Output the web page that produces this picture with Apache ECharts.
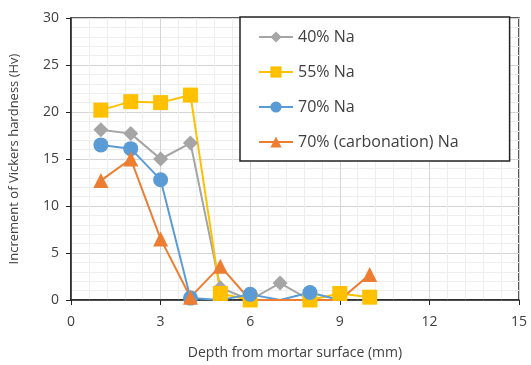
<!DOCTYPE html>
<html>
<head>
<meta charset="utf-8">
<script src="https://cdn.jsdelivr.net/npm/echarts@6/dist/echarts.min.js"></script>
<style>
  html, body { margin: 0; padding: 0; background: #fff; }
  #chart { width: 531px; height: 365px; }
</style>
</head>
<body>
<div id="chart"></div>
<script>
// depth (mm) and hardness increment (Hv)
var depth = [1, 2, 3, 4, 5, 6, 7, 8, 9, 10];
var na40 = [18.1, 17.7, 15.0, 16.7, 1.3, 0, 1.8, 0, null, null];
var na55 = [20.2, 21.1, 21.0, 21.8, 0.7, 0, null, 0, 0.7, 0.3];
var na70 = [16.5, 16.1, 12.8, 0.2, 0, 0.6, 0, 0.8, 0, null];
var na70c = [12.7, 15.0, 6.5, 0.3, 3.6, 0, 0, 0, 0, 2.7];
var names = ['40% Na', '55% Na', '70% Na', '70% (carbonation) Na'];

function pairs(vals) {
  var out = [];
  for (var i = 0; i < depth.length; i++) {
    if (vals[i] !== null) out.push([depth[i], vals[i]]);
  }
  return out;
}

// markers sitting exactly on zero are not shown in the original
function hideZero(v) {
  return v[1] === 0 ? 0 : 15;
}

var chart = echarts.init(document.getElementById('chart'));
var textColor = '#404040';
var font = 'Open Sans';

var option = {
  animation: false,
  textStyle: { fontFamily: font },
  grid: { left: 71, right: 12, top: 18, bottom: 65, show: true, borderColor: '#222', borderWidth: 1.5 },
  legend: {
    orient: 'vertical',
    left: 240,
    top: 17,
    padding: [12, 51, 11, 18],
    itemGap: 19,
    itemWidth: 34,
    itemHeight: 14,
    backgroundColor: '#fff',
    borderColor: '#222',
    borderWidth: 1.5,
    textStyle: { fontSize: 16, color: textColor, fontFamily: font },
    data: names
  },
  xAxis: {
    type: 'value',
    min: 0, max: 15, interval: 3,
    name: 'Depth from mortar surface (mm)',
    nameLocation: 'middle',
    nameGap: 46,
    nameTextStyle: { fontSize: 14, color: textColor },
    axisLine: { lineStyle: { color: '#222', width: 1.5 } },
    axisTick: { show: true, length: 5, lineStyle: { color: '#222' } },
    axisLabel: { fontSize: 14, color: textColor, margin: 15 },
    splitLine: { lineStyle: { color: '#d4d4d4' } },
    minorTick: { show: false, splitNumber: 5 },
    minorSplitLine: { show: true, lineStyle: { color: '#eeeeee' } }
  },
  yAxis: {
    type: 'value',
    min: 0, max: 30, interval: 5,
    name: 'Increment of Vickers hardness (Hv)',
    nameLocation: 'middle',
    nameGap: 50,
    nameTextStyle: { fontSize: 13, color: textColor },
    axisLine: { show: true, lineStyle: { color: '#222', width: 1.5 } },
    axisTick: { show: true, length: 5, lineStyle: { color: '#222' } },
    axisLabel: { fontSize: 14, color: textColor, margin: 12 },
    splitLine: { lineStyle: { color: '#d4d4d4' } },
    minorTick: { show: false, splitNumber: 5 },
    minorSplitLine: { show: true, lineStyle: { color: '#eeeeee' } }
  },
  series: [
    {
      name: names[0], type: 'line', data: pairs(na40),
      symbol: 'diamond', symbolSize: hideZero,
      itemStyle: { color: '#a5a5a5' }, lineStyle: { color: '#a5a5a5', width: 2 }
    },
    {
      name: names[1], type: 'line', data: pairs(na55),
      symbol: 'rect', symbolSize: 15,
      itemStyle: { color: '#ffc000' }, lineStyle: { color: '#ffc000', width: 2 }
    },
    {
      name: names[2], type: 'line', data: pairs(na70),
      symbol: 'circle', symbolSize: hideZero,
      itemStyle: { color: '#5b9bd5' }, lineStyle: { color: '#5b9bd5', width: 2 }
    },
    {
      name: names[3], type: 'line', data: pairs(na70c),
      symbol: 'triangle', symbolSize: hideZero,
      itemStyle: { color: '#ed7d31' }, lineStyle: { color: '#ed7d31', width: 2 }
    }
  ]
};

chart.setOption(option);
</script>
</body>
</html>
